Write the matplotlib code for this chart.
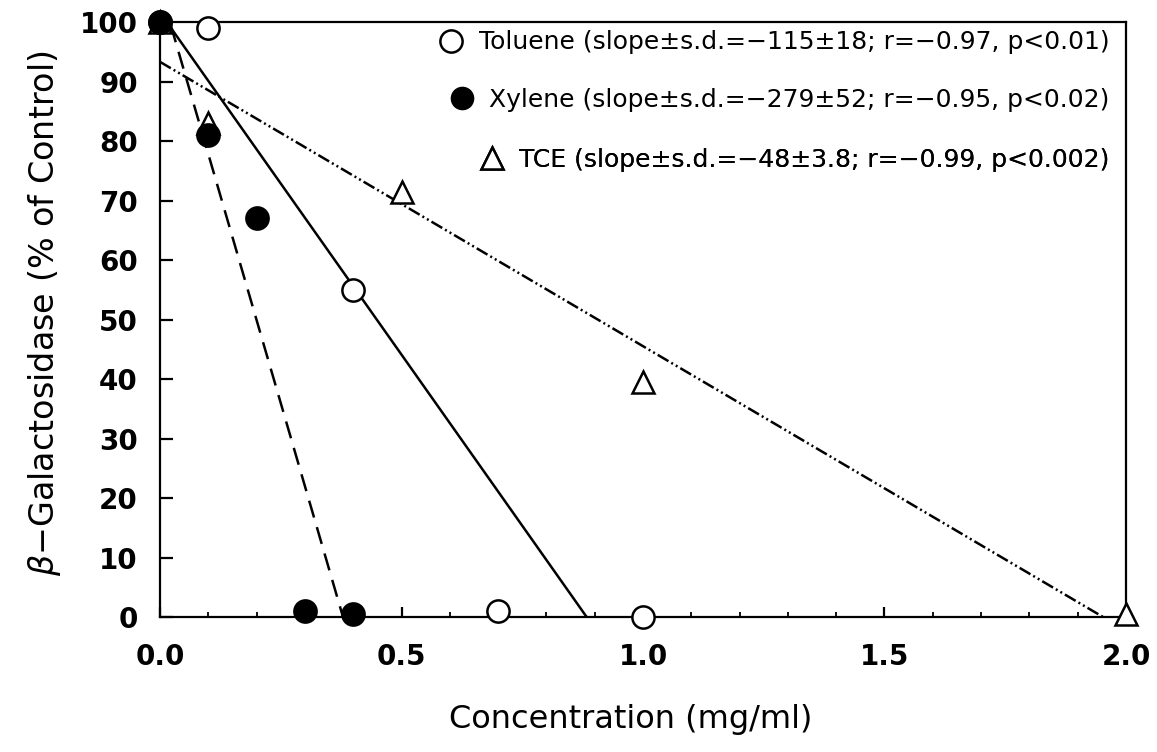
import numpy as np
import matplotlib
matplotlib.use("Agg")
import matplotlib.pyplot as plt
from matplotlib.lines import Line2D
from matplotlib.ticker import MultipleLocator

# ---- data ----
tol_x = [0.0, 0.1, 0.4, 0.7, 1.0]
tol_y = [100, 99, 55, 1, 0]
xyl_x = [0.0, 0.1, 0.2, 0.3, 0.4]
xyl_y = [100, 81, 67, 1, 0.5]
tce_x = [0.0, 0.1, 0.5, 1.0, 2.0]
tce_y = [100, 83, 71.5, 39.5, 0.5]

labels = [
    "Toluene (slope\u00b1s.d.=\u2212115\u00b118; r=\u22120.97, p<0.01)",
    "Xylene (slope\u00b1s.d.=\u2212279\u00b152; r=\u22120.95, p<0.02)",
    "TCE (slope\u00b1s.d.=\u221248\u00b13.8; r=\u22120.99, p<0.002)",
]
xticks = [0.0, 0.5, 1.0, 1.5, 2.0]
yticks = list(range(0, 101, 10))

plt.rcParams['font.family'] = ['DejaVu Sans']
fig = plt.figure(figsize=(11.57, 7.52), dpi=100)
ax = fig.add_axes([0.1383, 0.1795, 0.9732 - 0.1383, 0.9707 - 0.1795])

lw = 1.8
styles = [
    dict(ls='-'),
    dict(ls=(0, (7, 4))),
    dict(ls=(0, (5, 1.3, 0.8, 1.3, 0.8, 1.3))),
]
series = [(tol_x, tol_y), (xyl_x, xyl_y), (tce_x, tce_y)]
for (xs, ys), st in zip(series, styles):
    m, b = np.polyfit(xs, ys, 1)
    xr = -b / m
    ax.plot([0, xr], [b, 0], color='black', lw=lw, **st, zorder=2)

mk = dict(markersize=16, markeredgewidth=1.8, color='black', ls='none', clip_on=False)
ax.plot(tce_x, tce_y, marker='^', markerfacecolor='white', zorder=3, **mk)
ax.plot(tol_x, tol_y, marker='o', markerfacecolor='white', zorder=4, **mk)
ax.plot(xyl_x, xyl_y, marker='o', markerfacecolor='black', zorder=5, **mk)

ax.set_xlim(0, 2.0)
ax.set_ylim(0, 100)
ax.set_xticks(xticks)
ax.set_xticklabels([f"{v:.1f}" for v in xticks], fontweight='bold')
ax.xaxis.set_minor_locator(MultipleLocator(0.1))
ax.set_yticks(yticks)
ax.set_yticklabels([str(v) for v in yticks], fontweight='bold')
ax.tick_params(axis='x', which='major', direction='in', length=7, width=1.6,
               labelsize=20, pad=19, top=False)
ax.tick_params(axis='x', which='minor', direction='in', length=3.5, width=1.3, top=False)
ax.tick_params(axis='y', which='major', direction='in', length=9, width=1.6,
               labelsize=20, pad=16, right=False)
for s in ax.spines.values():
    s.set_linewidth(1.6)

ax.set_xlabel("Concentration (mg/ml)", fontsize=23)
ax.xaxis.set_label_coords(0.487, -0.146)
ax.set_ylabel(r"$\beta$" + "\u2212Galactosidase (% of Control)", fontsize=24)
ax.yaxis.set_label_coords(-0.100, 0.51)

# legend: one entry per legend box, right aligned
handles = [
    Line2D([], [], marker='o', markerfacecolor='white', markeredgecolor='black',
           markeredgewidth=1.8, markersize=16, ls='none'),
    Line2D([], [], marker='o', markerfacecolor='black', markeredgecolor='black',
           markersize=16, ls='none'),
    Line2D([], [], marker='^', markerfacecolor='white', markeredgecolor='black',
           markeredgewidth=1.8, markersize=16, ls='none'),
]
ys_leg = [0.966, 0.869, 0.768]
for h, lab, yy in zip(handles, labels, ys_leg):
    leg = ax.legend([h], [lab], loc='center right', bbox_to_anchor=(0.983, yy),
                    frameon=False, fontsize=18, handlelength=1.0, handletextpad=0.6,
                    borderpad=0, borderaxespad=0)
    ax.add_artist(leg)

fig.savefig("out.png", dpi=100)
